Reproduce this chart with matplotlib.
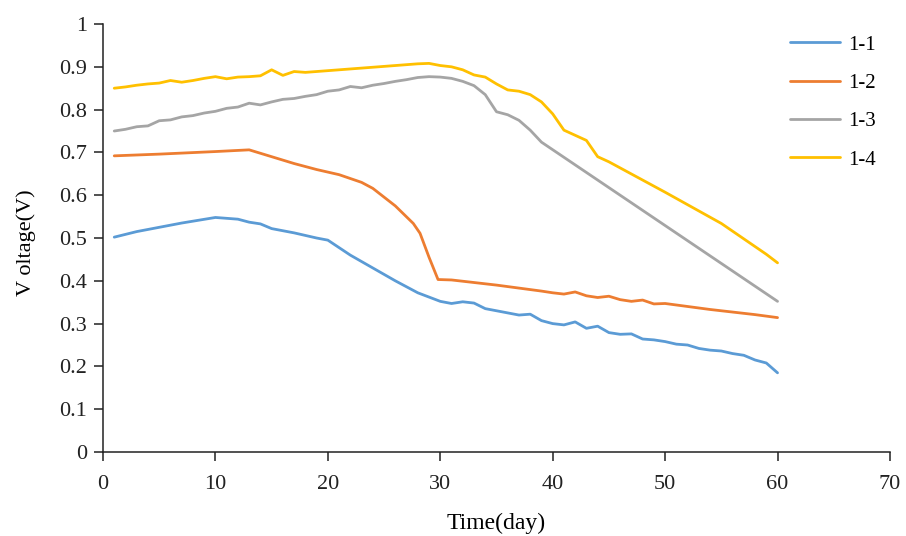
import matplotlib
matplotlib.use("Agg")
import matplotlib.pyplot as plt
from matplotlib.ticker import FuncFormatter, MultipleLocator

plt.rcParams['font.family'] = ['Liberation Serif', 'DejaVu Serif']

# Series 1-1
days_1 = [1, 3, 5, 7, 10, 12, 13, 14, 15, 17, 19, 20, 22, 24, 26, 28, 30, 31, 32, 33,
          34, 35, 36, 37, 38, 39, 40, 41, 42, 43, 44, 45, 46, 47, 48, 49, 50, 51, 52,
          53, 54, 55, 56, 57, 58, 59, 60]
volt_1 = [0.502, 0.515, 0.525, 0.535, 0.548, 0.544, 0.537, 0.533, 0.522, 0.512, 0.500,
          0.495, 0.460, 0.430, 0.400, 0.372, 0.352, 0.347, 0.351, 0.348, 0.335, 0.330,
          0.325, 0.320, 0.322, 0.307, 0.300, 0.297, 0.304, 0.289, 0.294, 0.279, 0.275,
          0.276, 0.264, 0.262, 0.258, 0.252, 0.250, 0.242, 0.238, 0.236, 0.230, 0.226,
          0.215, 0.208, 0.185]

# Series 1-2
days_2 = [1, 5, 10, 13, 15, 17, 19, 21, 23, 24, 26, 27.6, 28.2, 29, 29.8, 31, 33, 34,
          35, 37, 39, 40, 41, 42, 43, 44, 45, 46, 47, 48, 49, 50, 52, 54, 56, 58, 60]
volt_2 = [0.692, 0.696, 0.702, 0.706, 0.690, 0.674, 0.660, 0.648, 0.630, 0.616, 0.575,
          0.534, 0.511, 0.455, 0.403, 0.402, 0.396, 0.393, 0.390, 0.383, 0.376, 0.372,
          0.369, 0.374, 0.365, 0.361, 0.364, 0.356, 0.352, 0.355, 0.346, 0.347, 0.340,
          0.333, 0.327, 0.321, 0.314]

# Series 1-3
days_3 = [1, 2, 3, 4, 5, 6, 7, 8, 9, 10, 11, 12, 13, 14, 15, 16, 17, 18, 19, 20, 21, 22,
          23, 24, 25, 26, 27, 28, 29, 30, 31, 32, 33, 34, 35, 36, 37, 38, 39, 60]
volt_3 = [0.750, 0.754, 0.760, 0.762, 0.774, 0.776, 0.783, 0.786, 0.792, 0.796, 0.803,
          0.806, 0.815, 0.811, 0.818, 0.824, 0.826, 0.831, 0.835, 0.843, 0.846, 0.854,
          0.851, 0.857, 0.861, 0.866, 0.870, 0.875, 0.877, 0.876, 0.873, 0.866, 0.856,
          0.835, 0.795, 0.788, 0.775, 0.752, 0.724, 0.352]

# Series 1-4
days_4 = [1, 2, 3, 4, 5, 6, 7, 8, 9, 10, 11, 12, 13, 14, 15, 16, 17, 18, 28, 29, 30, 31,
          32, 33, 34, 35, 36, 37, 38, 39, 40, 41, 42, 43, 44, 45, 50, 55, 58, 59, 60]
volt_4 = [0.850, 0.853, 0.857, 0.860, 0.862, 0.868, 0.864, 0.868, 0.873, 0.877, 0.872,
          0.876, 0.877, 0.879, 0.893, 0.880, 0.889, 0.887, 0.907, 0.908, 0.903, 0.900,
          0.893, 0.881, 0.876, 0.860, 0.846, 0.843, 0.835, 0.818, 0.790, 0.752, 0.740,
          0.728, 0.690, 0.678, 0.607, 0.534, 0.480, 0.462, 0.442]

labels = ['1-1', '1-2', '1-3', '1-4']
colors = ['#5B9BD5', '#ED7D31', '#A5A5A5', '#FFC000']

fig = plt.figure(figsize=(9.06, 5.36), dpi=100)
ax = fig.add_axes([0.1137, 0.1567, 0.8686, 0.7985])

for d, v, lab, c in zip([days_1, days_2, days_3, days_4],
                        [volt_1, volt_2, volt_3, volt_4], labels, colors):
    ax.plot(d, v, color=c, lw=2.0, label=lab, solid_capstyle='round')

ax.set_xlim(0, 70)
ax.set_ylim(0, 1)
ax.xaxis.set_major_locator(MultipleLocator(10))
ax.yaxis.set_major_locator(MultipleLocator(0.1))
ax.yaxis.set_major_formatter(FuncFormatter(lambda v, p: ('%.1f' % v).rstrip('0').rstrip('.') if v else '0'))

for s in ['top', 'right']:
    ax.spines[s].set_visible(False)
for s in ['left', 'bottom']:
    ax.spines[s].set_linewidth(1.1)
    ax.spines[s].set_color('#222222')

ax.tick_params(axis='both', direction='out', length=6.5, width=1.1, labelsize=16,
               colors='#222222')
ax.tick_params(axis='y', pad=5)
ax.tick_params(axis='x', pad=10)
ax.set_xlabel('Time(day)', fontsize=17)
ax.set_ylabel('V oltage(V)', fontsize=16)
ax.xaxis.set_label_coords(0.5, -0.142)
ax.yaxis.set_label_coords(-0.085, 0.49)

fig.legend(loc='upper left', bbox_to_anchor=(790 / 906, 1 - 35 / 536), frameon=False,
           fontsize=15, handlelength=2.4, labelspacing=0.9, handletextpad=0.38,
           borderpad=0, borderaxespad=0)

fig.savefig('out.png', dpi=100, facecolor='white')
